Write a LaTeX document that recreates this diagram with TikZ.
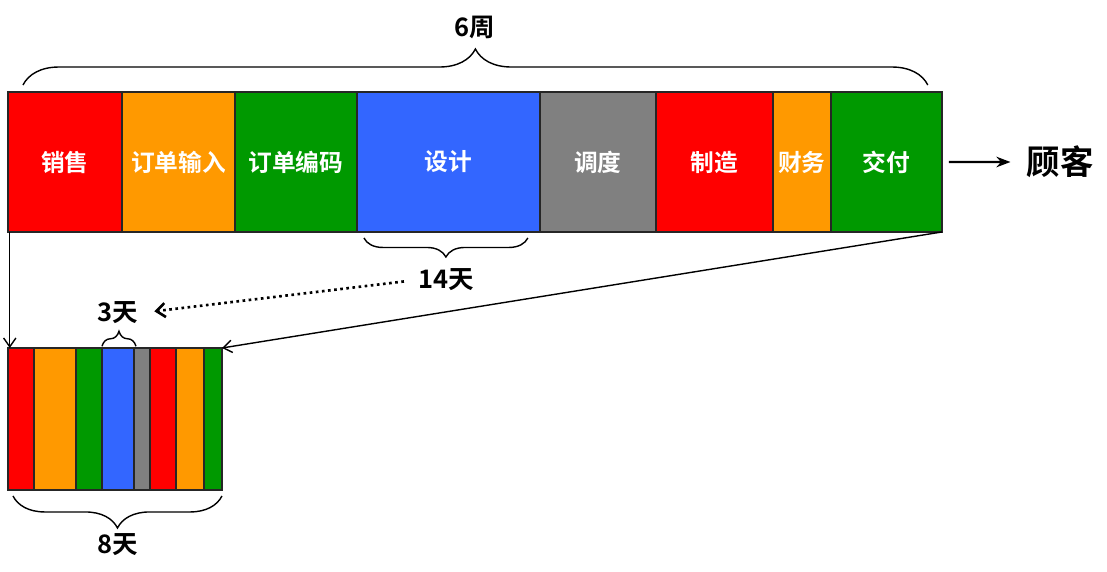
\documentclass[tikz,border=0pt]{standalone}
\usepackage{fontspec}
\setmainfont{Noto Sans CJK SC}[BoldFont={Noto Sans CJK SC Bold}]
\usepackage{tikz}
\usetikzlibrary{arrows.meta, positioning, decorations.pathreplacing}
\definecolor{segred}{HTML}{FF0000}
\definecolor{segorange}{HTML}{FF9900}
\definecolor{seggreen}{HTML}{009900}
\definecolor{segblue}{HTML}{3366FF}
\definecolor{seggray}{HTML}{808080}
\tikzset{
  seg/.style={
    rectangle, draw=black!85, fill=#1, line width=0.8pt,
    minimum height=2.8cm, inner sep=0pt, outer sep=0pt,
    text=white, font=\fontsize{13.5}{13.5}\selectfont\bfseries
  },
  sseg/.style={
    rectangle, draw=black!85, fill=#1, line width=0.8pt,
    minimum height=2.84cm, inner sep=0pt, outer sep=0pt
  },
  lbl/.style={font=\fontsize{14.5}{14.5}\selectfont\bfseries, inner sep=1pt},
  brc/.style={decorate, decoration={brace, amplitude=#1}, line width=0.8pt},
  arr/.style={line width=0.8pt, -{Straight Barb[length=5pt, width=7pt]}},
  darr/.style={line width=1.5pt, dotted, -{Straight Barb[length=5pt, width=8pt]}}
}

\begin{document}
\begin{tikzpicture}[x=0.02cm, y=-0.02cm]
  \useasboundingbox (0,0) rectangle (1107,572);

  % the whole order flow, six weeks
  \node[seg=segred, minimum width=2.28cm, anchor=north west] (sales) at (8,92) {销售};
  \node[seg=segorange, minimum width=2.26cm, right=0pt of sales]  (entry)  {订单输入};
  \node[seg=seggreen,  minimum width=2.44cm, right=0pt of entry]  (coding) {订单编码};
  \node[seg=segblue,   minimum width=3.66cm, right=0pt of coding] (design) {设计};
  \node[seg=seggray,   minimum width=2.32cm, right=0pt of design] (sched)  {调度};
  \node[seg=segred,    minimum width=2.34cm, right=0pt of sched]  (manuf)  {制造};
  \node[seg=segorange, minimum width=1.16cm, right=0pt of manuf]  (fin)    {财务};
  \node[seg=seggreen,  minimum width=2.22cm, right=0pt of fin]    (deliv)  {交付};

  \node[font=\fontsize{19}{19}\selectfont\bfseries, inner sep=2pt] (cust) at (1060,162) {顾客};
  \draw[line width=1.2pt, -{Stealth[length=8pt, width=6pt]}, shorten <=4pt, shorten >=7pt]
    (deliv.east) -- (cust.west);

  % the value-adding time, eight days
  \node[sseg=segred,    minimum width=0.52cm, anchor=north west] (s1) at (8,348) {};
  \node[sseg=segorange, minimum width=0.84cm, right=0pt of s1] (s2) {};
  \node[sseg=seggreen,  minimum width=0.52cm, right=0pt of s2] (s3) {};
  \node[sseg=segblue,   minimum width=0.64cm, right=0pt of s3] (s4) {};
  \node[sseg=seggray,   minimum width=0.32cm, right=0pt of s4] (s5) {};
  \node[sseg=segred,    minimum width=0.52cm, right=0pt of s5] (s6) {};
  \node[sseg=segorange, minimum width=0.56cm, right=0pt of s6] (s7) {};
  \node[sseg=seggreen,  minimum width=0.36cm, right=0pt of s7] (s8) {};

  \draw[arr] ([xshift=1pt]sales.south west) -- ([xshift=1pt]s1.north west);
  \draw[arr] (deliv.south east) -- (s8.north east);

  % braces and their labels
  \draw[brc=0.72cm] ([xshift=0.3cm, yshift=0.14cm]sales.north west)
    -- ([xshift=-0.28cm, yshift=0.14cm]deliv.north east);
  \node[lbl] (weeks) at (475,27) {6周};

  \draw[brc=0.38cm] ([xshift=-0.24cm, yshift=-0.12cm]design.south east)
    -- ([xshift=0.14cm, yshift=-0.12cm]design.south west);
  \node[lbl] (d14) at (446,280) {14天};

  \draw[brc=0.3cm] ([yshift=1pt]s4.north west) -- ([xshift=0.04cm, yshift=1pt]s4.north east);
  \node[lbl] (d3) at (118,313) {3天};

  \draw[brc=0.64cm] ([yshift=-0.12cm]s8.south east) -- ([xshift=0.1cm, yshift=-0.12cm]s1.south west);
  \node[lbl] (d8) at (118,545) {8天};

  \draw[darr, shorten <=7pt, shorten >=8pt] (d14.west) -- (d3.east);
\end{tikzpicture}
\end{document}
